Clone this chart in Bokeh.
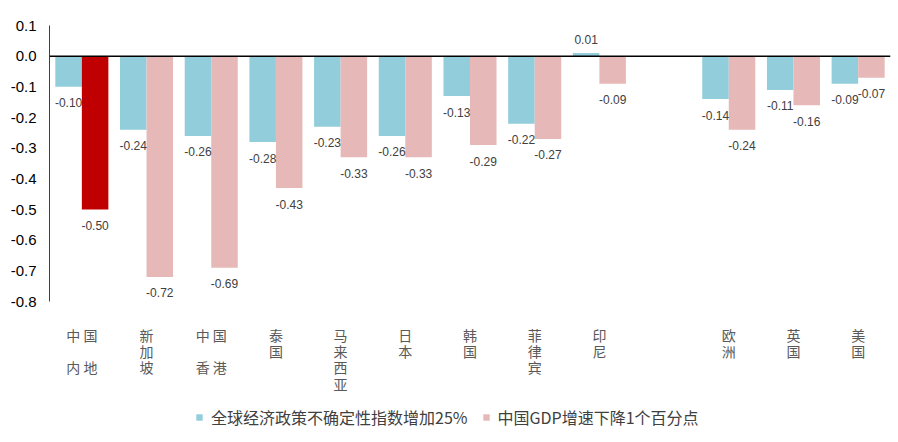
from bokeh.plotting import figure
from bokeh.layouts import column
from bokeh.models import (FactorRange, Range1d, ColumnDataSource, Legend, LegendItem,
                          FixedTicker, NumeralTickFormatter, Span)
from bokeh.transform import dodge
from bokeh.core.properties import value
from bokeh.embed import file_html
from bokeh.resources import INLINE

# ---- data ----
categories = ["中国内地", "新加坡", "中国香港", "泰国", "马来西亚", "日本", "韩国",
              "菲律宾", "印尼", " ", "欧洲", "英国", "美国"]
tick_labels = ["中 国\n\n内 地", "新\n加\n坡", "中 国\n\n香 港", "泰\n国", "马\n来\n西\n亚",
               "日\n本", "韩\n国", "菲\n律\n宾", "印\n尼", "", "欧\n洲", "英\n国", "美\n国"]
uncertainty = [-0.10, -0.24, -0.26, -0.28, -0.23, -0.26, -0.13, -0.22, 0.01, None, -0.14, -0.11, -0.09]
gdp = [-0.50, -0.72, -0.69, -0.43, -0.33, -0.33, -0.29, -0.27, -0.09, None, -0.24, -0.16, -0.07]
series_names = ["全球经济政策不确定性指数增加25%", "中国GDP增速下降1个百分点"]
y_ticks = [0.1, 0.0, -0.1, -0.2, -0.3, -0.4, -0.5, -0.6, -0.7, -0.8]

BLUE = "#92CDDC"
PINK = "#E6B9B8"
RED = "#C00000"


def make_source(vals, base_color, highlight=None):
    cats, v, labels, offs, cols = [], [], [], [], []
    for c, x in zip(categories, vals):
        if x is None:
            continue
        cats.append(c)
        v.append(x)
        labels.append(f"{x:.2f}")
        offs.append(16 if x < 0 else -14)
        cols.append(highlight if (highlight and c == "中国内地") else base_color)
    return ColumnDataSource(dict(cat=cats, val=v, label=labels, yoff=offs, color=cols))


src1 = make_source(uncertainty, BLUE)
src2 = make_source(gdp, PINK, RED)

# ---------- main chart ----------
p = figure(width=898, height=311, output_backend="svg", toolbar_location=None,
           x_range=FactorRange(*categories), y_range=Range1d(-0.8, 0.1),
           min_border_left=49, min_border_right=8, min_border_top=25, min_border_bottom=10)
p.outline_line_color = None
p.xgrid.visible = False
p.ygrid.visible = False
p.xaxis.visible = False
p.background_fill_color = "white"
p.border_fill_color = "white"

W = 0.41
r1 = p.vbar(x=dodge("cat", -W / 2, range=p.x_range), top="val", bottom=0, width=W,
            source=src1, fill_color="color", line_color=None)
r2 = p.vbar(x=dodge("cat", W / 2, range=p.x_range), top="val", bottom=0, width=W,
            source=src2, fill_color="color", line_color=None)

for src, d in ((src1, -W / 2), (src2, W / 2)):
    p.text(x=dodge("cat", d, range=p.x_range), y="val", text="label", y_offset="yoff",
           source=src, text_align="center", text_baseline="middle",
           text_font=value("Liberation Sans"), text_font_size="12px", text_color="#404040")

p.add_layout(Span(location=0, dimension="width", line_color="black", line_width=1.5))

p.yaxis.ticker = FixedTicker(ticks=y_ticks)
p.yaxis.formatter = NumeralTickFormatter(format="0.0")
p.yaxis.major_label_text_font = "Liberation Sans"
p.yaxis.major_label_text_font_size = "15px"
p.yaxis.major_label_text_color = "black"
p.yaxis.major_tick_line_color = None
p.yaxis.minor_tick_line_color = None
p.yaxis.axis_line_color = "#404040"
p.yaxis.major_label_standoff = 7

# ---------- category labels + legend strip ----------
p2 = figure(width=898, height=131, output_backend="svg", toolbar_location=None,
            x_range=p.x_range, y_range=Range1d(0, 131),
            min_border_left=49, min_border_right=8, min_border_top=0, min_border_bottom=0)
p2.outline_line_color = None
p2.xgrid.visible = False
p2.ygrid.visible = False
p2.xaxis.visible = False
p2.yaxis.visible = False
p2.background_fill_color = "white"
p2.border_fill_color = "white"

lab_src = ColumnDataSource(dict(cat=categories, label=tick_labels))
p2.text(x="cat", y=118, text="label", source=lab_src, text_align="center",
        text_baseline="top", text_font=value("Noto Sans CJK SC"), text_font_size="14px",
        text_line_height=0.82, text_color="#595959")

# legend proxies (drawn outside the strip's visible range, only used for the legend swatches)
d1 = p2.vbar(x="cat", top=-20, bottom=-30, width=0.4, source=src1,
             fill_color=BLUE, line_color=None)
d2 = p2.vbar(x="cat", top=-20, bottom=-30, width=0.4, source=src2,
             fill_color=PINK, line_color=None)

legend = Legend(items=[LegendItem(label=series_names[0], renderers=[d1]),
                       LegendItem(label=series_names[1], renderers=[d2])],
                orientation="horizontal", location=(146, 13),
                label_text_font="Noto Sans CJK SC", label_text_font_size="16px",
                label_text_color="#404040", glyph_width=8, glyph_height=8,
                spacing=14, padding=0, margin=0, label_standoff=8,
                border_line_color=None, background_fill_alpha=0)
p2.add_layout(legend, "center")

layout = column(p, p2, spacing=0)
open("out.html", "w").write(file_html(layout, INLINE))
